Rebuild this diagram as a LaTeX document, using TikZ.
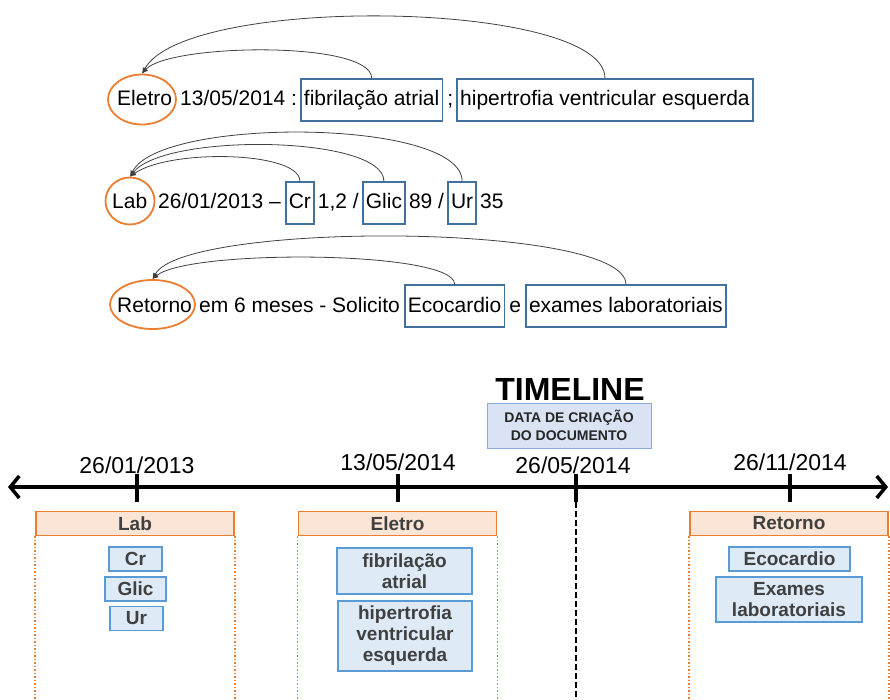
\documentclass[tikz,border=0pt]{standalone}
\usepackage{fontspec}
\setmainfont{Liberation Sans}
\usetikzlibrary{arrows.meta,shapes.geometric}

\definecolor{boxblue}{HTML}{41719C}
\definecolor{ringorange}{HTML}{ED7D31}
\definecolor{headfill}{HTML}{FBE5D6}
\definecolor{itemfill}{HTML}{DEEBF7}
\definecolor{itemline}{HTML}{5B9BD5}
\definecolor{notefill}{HTML}{DAE3F3}
\definecolor{noteline}{HTML}{8FAADC}
\definecolor{panelink}{HTML}{404040}

\tikzset{
  note/.style={font=\fontsize{21}{25}\selectfont, inner sep=0pt, anchor=base west},
  tag/.style={draw=boxblue, line width=1.6pt, font=\fontsize{21}{25}\selectfont,
    inner xsep=3pt, inner ysep=0pt, text height=17pt, text depth=5pt,
    minimum height=42pt, anchor=base west},
  ring/.style={ellipse, draw=ringorange, line width=1.8pt, inner sep=0pt},
  link/.style={draw=black!75, line width=0.8pt, -{Latex[length=6pt,width=5pt]}},
  axis/.style={line width=3.5pt, {Straight Barb[length=9pt,width=22pt]}-{Straight Barb[length=9pt,width=22pt]}},
  tick/.style={line width=3.5pt},
  datelabel/.style={font=\fontsize{23}{27}\selectfont, anchor=base, inner sep=0pt},
  head/.style={draw=ringorange, fill=headfill, line width=1.6pt, minimum width=198pt,
    minimum height=24pt, inner sep=0pt, font=\bfseries\fontsize{19}{21}\selectfont, text=panelink},
  guide/.style={draw=ringorange, line width=1.5pt, dotted},
  item/.style={draw=itemline, fill=itemfill, line width=1.6pt, inner sep=1pt,
    font=\bfseries\fontsize{19}{21}\selectfont, text=panelink, align=center},
}

\begin{document}
\begin{tikzpicture}[x=1pt, y=-1pt]
\useasboundingbox (0,0) rectangle (890,700);

% ---- Eletro line
\node[note] (w1) at (117,106) {Eletro};
\node[ring, minimum width=68pt, minimum height=50pt] (e1) at (142,99.5) {};
\node[note] (t11) at (180,106) {13/05/2014 :};
\node[tag] (b11) at ([xshift=3pt]t11.base east) {fibrilação atrial};
\node[note] (t12) at ([xshift=4pt]b11.base east) {;};
\node[tag] (b12) at ([xshift=3pt]t12.base east) {hipertrofia ventricular esquerda};
\draw[link] (b11.north) .. controls +(0,-38) and +(27,-30) .. (e1.north);
\draw[link] (b12.north) .. controls +(0,-78) and +(45,-80) .. (e1.north);

% ---- Lab line
\node[note] (w2) at (112,209) {Lab};
\node[ring, minimum width=49pt, minimum height=47pt] (e2) at (130,201) {};
\node[note] (t21) at (158,209) {26/01/2013 –};
\node[tag] (b21) at ([xshift=4pt]t21.base east) {Cr};
\node[note] (t22) at ([xshift=3pt]b21.base east) {1,2 /};
\node[tag] (b22) at ([xshift=3pt]t22.base east) {Glic};
\node[note] (t23) at ([xshift=3pt]b22.base east) {89 /};
\node[tag] (b23) at ([xshift=3pt]t23.base east) {Ur};
\node[note] (t24) at ([xshift=3pt]b23.base east) {35};
\draw[link] (b21.north) .. controls +(0,-30) and +(40,-28) .. (e2.north);
\draw[link] (b22.north) .. controls +(0,-46) and +(35,-44) .. (e2.north);
\draw[link] (b23.north) .. controls +(0,-63) and +(30,-60) .. (e2.north);

% ---- Retorno line
\node[note] (w3) at (117,312) {Retorno};
\node[ring, minimum width=85pt, minimum height=49pt] (e3) at (152.5,304.5) {};
\node[note] (t31) at (199,312) {em 6 meses - Solicito};
\node[tag] (b31) at ([xshift=4pt]t31.base east) {Ecocardio};
\node[note] (t32) at ([xshift=4pt]b31.base east) {e};
\node[tag] (b32) at ([xshift=4pt]t32.base east) {exames laboratoriais};
\draw[link] (b31.north) .. controls +(0,-34) and +(36,-30) .. (e3.north);
\draw[link] (b32.north) .. controls +(0,-62) and +(32,-58) .. (e3.north);

% ---- Timeline heading
\node[font=\bfseries\fontsize{32}{36}\selectfont, anchor=base, inner sep=0pt] (title) at (570,400) {TIMELINE};
\node[draw=noteline, fill=notefill, line width=1pt, minimum width=164pt, minimum height=45pt,
  inner sep=0pt, align=center, font=\bfseries\fontsize{14}{18}\selectfont, text=black!85]
  (doc) at (569,425.5) {DATA DE CRIAÇÃO\\DO DOCUMENTO};

% ---- axis and ticks
\coordinate (axl) at (8,487);
\coordinate (axr) at (888,487);
\draw[axis] (axl) -- (axr);
\foreach \n/\x in {lab/137, ele/398, doc/576, ret/790}{
  \coordinate (\n-top) at (\x,474);
  \coordinate (\n-bot) at (\x,502);
  \draw[tick] (\n-top) -- (\n-bot);
}
\node[datelabel] (d1) at (137,473) {26/01/2013};
\node[datelabel] (d2) at (398,470) {13/05/2014};
\node[datelabel] (d3) at (573,473) {26/05/2014};
\node[datelabel] (d4) at (790,470) {26/11/2014};
\coordinate (docend) at (576,700);
\draw[line width=1.5pt, dash pattern=on 6pt off 3pt] (doc-bot) -- (docend);

% ---- event panels
\node[head] (hlab) at (135,523.5) {Lab};
\node[head] (hele) at (397.5,523.5) {Eletro};
\node[head] (hret) at (789,523.5) {Retorno};
\foreach \h in {hlab, hele, hret}{
  \draw[guide] (\h.south west) -- ++(0,166);
  \draw[guide] (\h.south east) -- ++(0,166);
}

\node[item, minimum width=53pt, minimum height=24pt] (icr) at (135.5,559) {Cr};
\node[item, minimum width=61pt, minimum height=24pt] (igl) at (135.5,589) {Glic};
\node[item, minimum width=53pt, minimum height=24pt] (iur) at (136.5,618.5) {Ur};
\node[item, minimum width=135pt, minimum height=46pt] (ifa) at (404.5,571) {fibrilação\\atrial};
\node[item, minimum width=134pt, minimum height=70pt] (ihv) at (405,636) {hipertrofia\\ventricular\\esquerda};
\node[item, minimum width=121pt, minimum height=24pt] (ieco) at (789.5,559) {Ecocardio};
\node[item, minimum width=146pt, minimum height=45pt] (iexa) at (789,599.5) {Exames\\laboratoriais};
\end{tikzpicture}
\end{document}
